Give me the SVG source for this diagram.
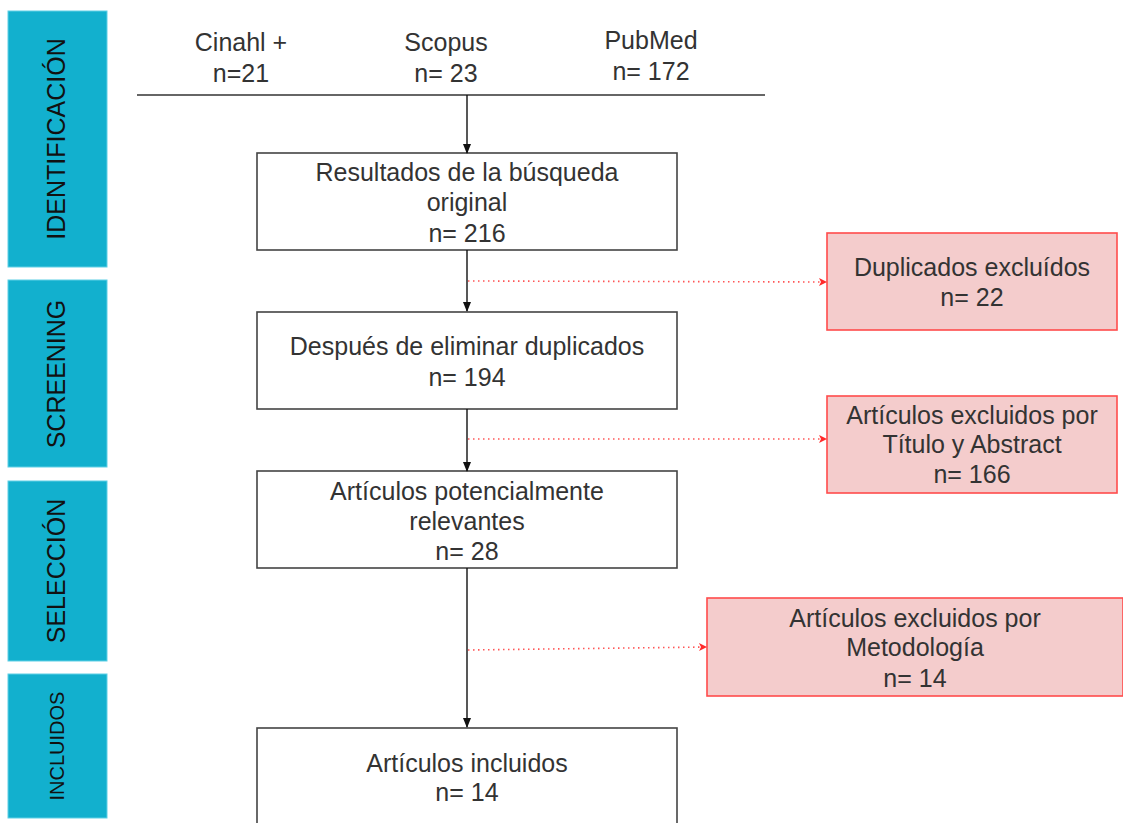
<svg xmlns="http://www.w3.org/2000/svg" width="1123" height="823" viewBox="0 0 1123 823">
<defs>
<style>
.band{fill:#12B0CE;stroke:#5fd0e6;stroke-width:1}
.bt{font-family:"Liberation Sans",Arial,sans-serif;font-size:25px;fill:#111;text-anchor:middle}
.box{fill:#fff;stroke:#444;stroke-width:1.6}
.rbox{fill:#F4CCCC;stroke:#FF4B4B;stroke-width:1.6}
.t{font-family:"Liberation Sans",Arial,sans-serif;font-size:25px;fill:#333;text-anchor:middle}
.arr{stroke:#111;stroke-width:1.4;fill:none;marker-end:url(#ah)}
.dot{stroke:#FF5555;stroke-width:1.6;fill:none;stroke-dasharray:1.5 3.5;marker-end:url(#oh)}
</style>
<marker id="ah" markerWidth="10" markerHeight="10" refX="9" refY="5" orient="auto" markerUnits="userSpaceOnUse">
<path d="M0,1 L10,5 L0,9 Z" fill="#111"/>
</marker>
<marker id="oh" markerWidth="10" markerHeight="10" refX="9" refY="5" orient="auto" markerUnits="userSpaceOnUse">
<path d="M1,1 L9,5 L1,9 L3,5 Z" fill="#FF2A2A"/>
</marker>
</defs>

<g id="band-identificacion">
<rect class="band" x="8" y="11" width="99" height="256"/>
<text class="bt" transform="translate(65,139) rotate(-90)">IDENTIFICACIÓN</text>
</g>
<g id="band-screening">
<rect class="band" x="8" y="280" width="99" height="187"/>
<text class="bt" transform="translate(65,374) rotate(-90)">SCREENING</text>
</g>
<g id="band-seleccion">
<rect class="band" x="8" y="481" width="99" height="180"/>
<text class="bt" transform="translate(65,571) rotate(-90)">SELECCIÓN</text>
</g>
<g id="band-incluidos">
<rect class="band" x="8" y="674" width="99" height="144"/>
<text class="bt" style="font-size:20px" transform="translate(64,746) rotate(-90)">INCLUIDOS</text>
</g>

<g id="sources">
<text class="t" x="241" y="51">Cinahl +</text>
<text class="t" x="241" y="82">n=21</text>
<text class="t" x="446" y="51">Scopus</text>
<text class="t" x="446" y="82">n= 23</text>
<text class="t" x="651" y="49">PubMed</text>
<text class="t" x="651" y="80">n= 172</text>
<line x1="137" y1="95" x2="765" y2="95" stroke="#333" stroke-width="1.6"/>
</g>

<g id="box-resultados">
<rect class="box" x="257" y="153" width="420" height="97"/>
<text class="t" x="467" y="181">Resultados de la búsqueda</text>
<text class="t" x="467" y="211">original</text>
<text class="t" x="467" y="242">n= 216</text>
</g>
<g id="box-despues">
<rect class="box" x="257" y="312" width="420" height="97"/>
<text class="t" x="467" y="355">Después de eliminar duplicados</text>
<text class="t" x="467" y="386">n= 194</text>
</g>
<g id="box-potenciales">
<rect class="box" x="257" y="471" width="420" height="97"/>
<text class="t" x="467" y="500">Artículos potencialmente</text>
<text class="t" x="467" y="530">relevantes</text>
<text class="t" x="467" y="560">n= 28</text>
</g>
<g id="box-incluidos">
<rect class="box" x="257" y="728" width="420" height="110"/>
<text class="t" x="467" y="772">Artículos incluidos</text>
<text class="t" x="467" y="801">n= 14</text>
</g>

<g id="box-duplicados">
<rect class="rbox" x="827" y="233" width="290" height="97"/>
<text class="t" x="972" y="276">Duplicados excluídos</text>
<text class="t" x="972" y="306">n= 22</text>
</g>
<g id="box-titulo">
<rect class="rbox" x="827" y="396" width="290" height="97"/>
<text class="t" x="972" y="424">Artículos excluidos por</text>
<text class="t" x="972" y="453">Título y Abstract</text>
<text class="t" x="972" y="483">n= 166</text>
</g>
<g id="box-metodologia">
<rect class="rbox" x="707" y="598" width="416" height="98"/>
<text class="t" x="915" y="627">Artículos excluidos por</text>
<text class="t" x="915" y="656">Metodología</text>
<text class="t" x="915" y="687">n= 14</text>
</g>

<g id="connectors">
<line class="arr" x1="467" y1="95" x2="467" y2="153"/>
<line class="arr" x1="467" y1="250" x2="467" y2="311"/>
<line class="arr" x1="467" y1="409" x2="467" y2="471"/>
<line class="arr" x1="467" y1="568" x2="467" y2="727"/>
<line class="dot" x1="468" y1="281" x2="827" y2="282"/>
<line class="dot" x1="468" y1="439" x2="827" y2="439"/>
<line class="dot" x1="468" y1="650" x2="707" y2="647"/>
</g>
</svg>
